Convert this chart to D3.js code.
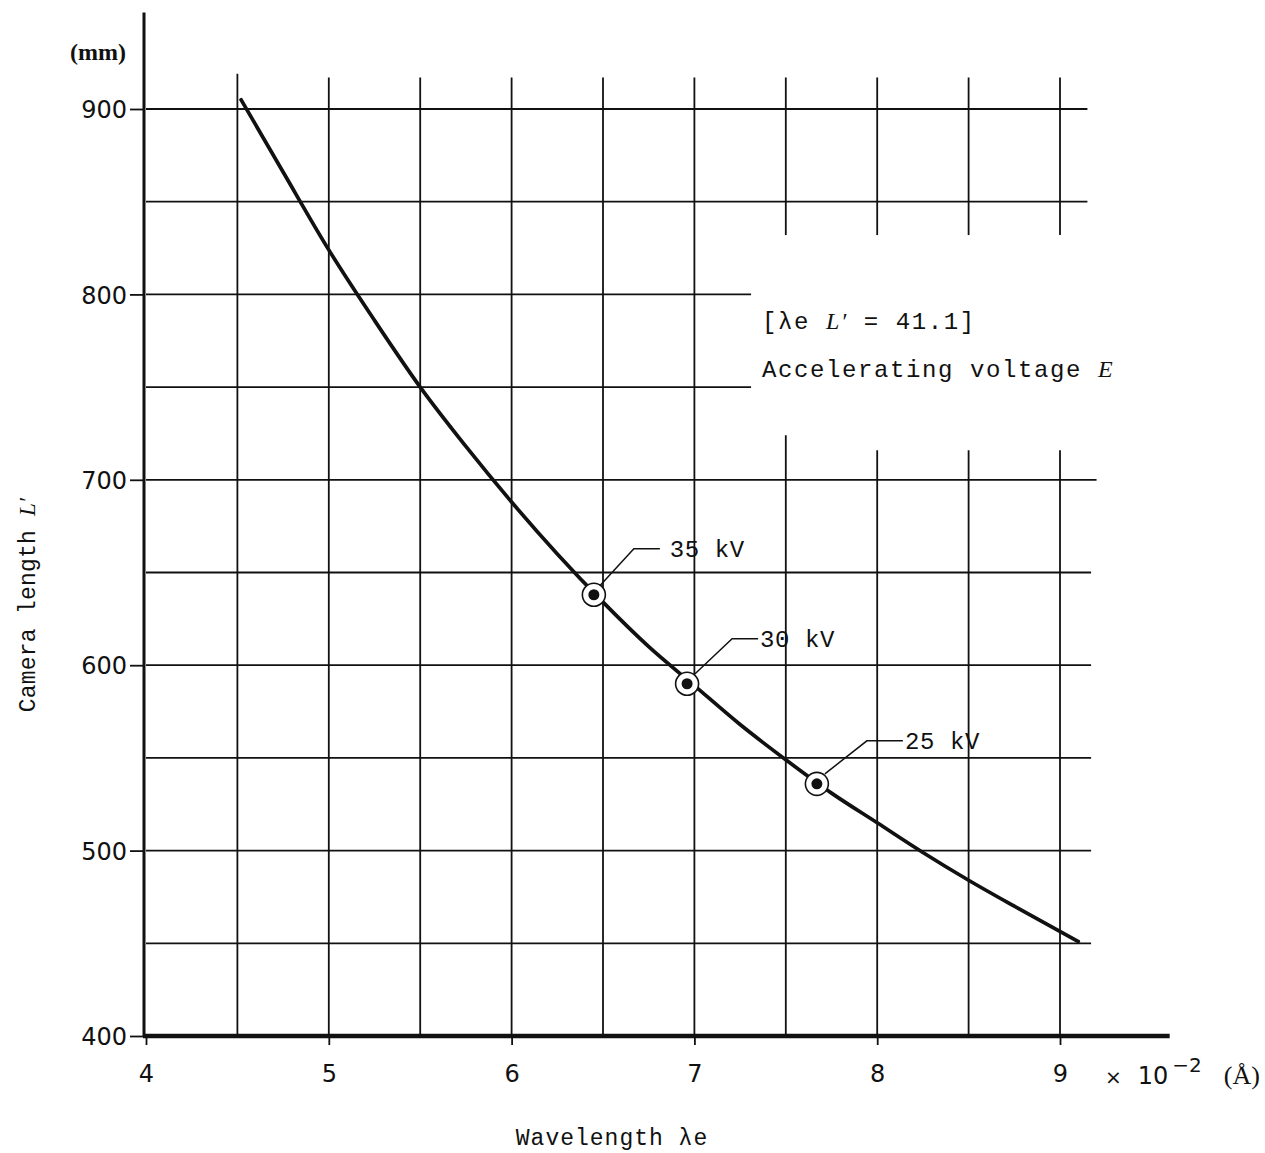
<!DOCTYPE html>
<html>
<head>
<meta charset="utf-8">
<script src="https://cdn.jsdelivr.net/npm/d3@7"></script>
<style>
  html, body { margin: 0; padding: 0; background: #fff; }
  svg { display: block; }
</style>
</head>
<body>
<div id="chart"></div>
<script>
// ---- data ----
const wavelength = [4.52, 4.75, 5.0, 5.25, 5.5, 5.75, 6.0, 6.25, 6.5, 6.75, 7.0, 7.25, 7.5, 7.75, 8.0, 8.25, 8.5, 8.75, 9.1];
const cameraLength = [905, 866, 824, 786, 750, 718, 688, 660, 634, 610, 589, 568, 549, 531, 515, 499, 484, 470, 451];
const voltageLabels = ["35 kV", "30 kV", "25 kV"];
const voltageWavelength = [6.45, 6.96, 7.67];
const voltageLength = [638, 590, 536];
const xTicks = [4, 5, 6, 7, 8, 9];
const yTicks = [400, 500, 600, 700, 800, 900];
const hGrid = [450, 500, 550, 600, 650, 700, 750, 800, 850, 900];
const vGrid = [4.5, 5, 5.5, 6, 6.5, 7, 7.5, 8, 8.5, 9];

const W = 1265, H = 1153;
const svg = d3.select("#chart").append("svg").attr("width", W).attr("height", H);
svg.append("rect").attr("width", W).attr("height", H).attr("fill", "#fff");

const x = d3.scaleLinear().domain([4, 9]).range([146, 1060]);
const y = d3.scaleLinear().domain([400, 900]).range([1036, 109]);

const ink = "#111";
const g = svg.append("g");

// horizontal grid lines (some stop short of the text block)
const hEnd = v => (v === 800 || v === 750) ? 7.31 : (v >= 850 ? 9.15 : (v === 700 ? 9.2 : 9.17));
g.selectAll(".hg").data(hGrid).enter().append("line")
  .attr("x1", x(4)).attr("x2", d => x(hEnd(d)))
  .attr("y1", d => y(d)).attr("y2", d => y(d))
  .attr("stroke", ink).attr("stroke-width", 1.8);

// vertical grid lines (broken behind the annotation for x >= 7.5)
const vTop = 917;
vGrid.forEach(v => {
  if (v >= 7.5) {
    g.append("line").attr("x1", x(v)).attr("x2", x(v)).attr("y1", y(vTop)).attr("y2", y(832))
      .attr("stroke", ink).attr("stroke-width", 1.8);
    g.append("line").attr("x1", x(v)).attr("x2", x(v)).attr("y1", y(v === 7.5 ? 724 : 716)).attr("y2", y(400))
      .attr("stroke", ink).attr("stroke-width", 1.8);
  } else {
    g.append("line").attr("x1", x(v)).attr("x2", x(v)).attr("y1", y(vTop + (v === 4.5 ? 2 : 0))).attr("y2", y(400))
      .attr("stroke", ink).attr("stroke-width", 1.8);
  }
});

// y axis
const yAxis = d3.axisLeft(y).tickValues(yTicks).tickSize(15).tickPadding(3);
const ya = svg.append("g").attr("transform", `translate(${x(4) - 1},0)`).call(yAxis);
ya.select(".domain").remove();
ya.selectAll(".tick line").attr("stroke", ink).attr("stroke-width", 1.8);
ya.selectAll(".tick text").attr("font-family", "DejaVu Sans").attr("font-size", 24)
  .attr("fill", ink).attr("dy", "0.36em");
svg.append("line").attr("x1", x(4) - 2).attr("x2", x(4) - 2).attr("y1", y(952)).attr("y2", y(400))
  .attr("stroke", ink).attr("stroke-width", 3);

// x axis
const xAxis = d3.axisBottom(x).tickValues(xTicks).tickFormat(d3.format("d")).tickSize(9).tickPadding(20);
const xa = svg.append("g").attr("transform", `translate(0,${y(400)})`).call(xAxis);
xa.select(".domain").remove();
xa.selectAll(".tick line").attr("stroke", ink).attr("stroke-width", 1.8);
xa.selectAll(".tick text").attr("font-family", "DejaVu Sans").attr("font-size", 24).attr("fill", ink);
svg.append("line").attr("x1", x(4) - 3).attr("x2", x(9.6)).attr("y1", y(400)).attr("y2", y(400))
  .attr("stroke", ink).attr("stroke-width", 4.5);

// unit labels
svg.append("text").attr("x", 98).attr("y", 60).attr("text-anchor", "middle")
  .attr("font-family", "Liberation Serif").attr("font-size", 24).attr("font-weight", "bold").attr("fill", ink)
  .text("(mm)");
const unit = svg.append("text").attr("x", x(9) + 45).attr("y", y(400) + 48)
  .attr("font-family", "DejaVu Sans").attr("font-size", 24).attr("fill", ink);
unit.append("tspan").attr("font-size", 20).text("×");
unit.append("tspan").attr("dx", 16).text("10");
unit.append("tspan").attr("dy", -12).attr("dx", 4).attr("font-size", 20).text("−2");
unit.append("tspan").attr("dy", 12).attr("dx", 22).attr("font-family", "Liberation Serif").attr("font-size", 26).text("(Å)");

// curve
const pts = wavelength.map((w, i) => [w, cameraLength[i]]);
svg.append("path").datum(pts)
  .attr("d", d3.line().x(d => x(d[0])).y(d => y(d[1])).curve(d3.curveMonotoneX))
  .attr("fill", "none").attr("stroke", ink).attr("stroke-width", 3.7).attr("stroke-linecap", "round");

// voltage markers with leaders
const leaders = [
  { dx1: 6, dy1: -9, dx2: 40, dy2: -46, dx3: 66, gap: 10 },
  { dx1: 8, dy1: -10, dx2: 45, dy2: -45, dx3: 71, gap: 2 },
  { dx1: 8, dy1: -10, dx2: 50, dy2: -43, dx3: 86, gap: 2 }
];
voltageLabels.forEach((lab, i) => {
  const cx = x(voltageWavelength[i]), cy = y(voltageLength[i]);
  const L = leaders[i];
  svg.append("circle").attr("cx", cx).attr("cy", cy).attr("r", 11.5)
    .attr("fill", "#fff").attr("stroke", ink).attr("stroke-width", 1.6);
  svg.append("circle").attr("cx", cx).attr("cy", cy).attr("r", 5.5).attr("fill", ink);
  svg.append("polyline")
    .attr("points", `${cx + L.dx1},${cy + L.dy1} ${cx + L.dx2},${cy + L.dy2} ${cx + L.dx3},${cy + L.dy2}`)
    .attr("fill", "none").attr("stroke", ink).attr("stroke-width", 1.5);
  svg.append("text").attr("x", cx + L.dx3 + L.gap).attr("y", cy + L.dy2).attr("dy", "0.36em")
    .attr("font-family", "Liberation Mono").attr("font-size", 24).attr("letter-spacing", 0.6).attr("fill", ink)
    .text(lab);
});

// annotation
const a1 = svg.append("text").attr("x", 762).attr("y", 329)
  .attr("font-family", "Liberation Mono").attr("font-size", 24).attr("letter-spacing", 1.6).attr("fill", ink);
a1.append("tspan").text("[λe ");
a1.append("tspan").attr("font-family", "Liberation Serif").attr("font-style", "italic").text("L′");
a1.append("tspan").text(" = 41.1]");
const a2 = svg.append("text").attr("x", 762).attr("y", 377)
  .attr("font-family", "Liberation Mono").attr("font-size", 24).attr("letter-spacing", 1.6).attr("fill", ink);
a2.append("tspan").text("Accelerating voltage ");
a2.append("tspan").attr("font-family", "Liberation Serif").attr("font-style", "italic").attr("font-weight", 300).text("E");

// axis titles
svg.append("text").attr("x", 612).attr("y", 1145).attr("text-anchor", "middle")
  .attr("font-family", "Liberation Mono").attr("font-size", 23).attr("letter-spacing", 1.0).attr("fill", ink)
  .text("Wavelength λe");
const yt = svg.append("text").attr("transform", "translate(35,605) rotate(-90)").attr("text-anchor", "middle")
  .attr("font-family", "Liberation Mono").attr("font-size", 23).attr("letter-spacing", 0.2).attr("fill", ink);
yt.append("tspan").text("Camera length ");
yt.append("tspan").attr("font-family", "Liberation Serif").attr("font-style", "italic").text("L′");
</script>
</body>
</html>
